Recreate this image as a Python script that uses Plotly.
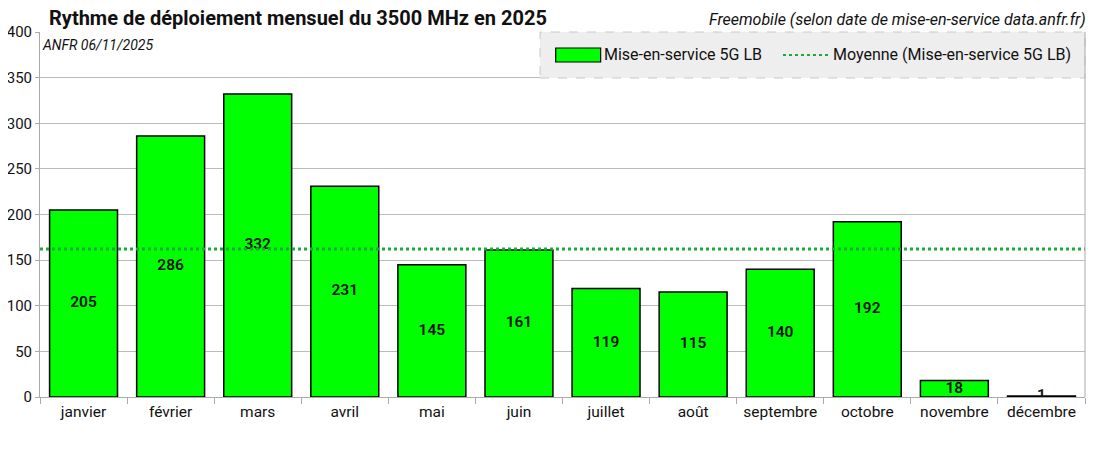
import plotly.graph_objects as go

months = ["janvier", "février", "mars", "avril", "mai", "juin", "juillet",
          "août", "septembre", "octobre", "novembre", "décembre"]
values = [205, 286, 332, 231, 145, 161, 119, 115, 140, 192, 18, 1]
series_name = "Mise-en-service 5G LB"
mean_name = "Moyenne (Mise-en-service 5G LB)"
title = "Rythme de déploiement mensuel du 3500 MHz en 2025"
subtitle = "Freemobile (selon date de mise-en-service data.anfr.fr)"
note = "ANFR 06/11/2025"
y_ticks = [0, 50, 100, 150, 200, 250, 300, 350, 400]

mean_val = sum(values) / len(values)

FONT = "Roboto, 'DejaVu Sans', sans-serif"

fig = go.Figure()
fig.add_trace(go.Bar(
    x=months, y=values, name=series_name,
    marker=dict(color="#00ff00", line=dict(color="#000000", width=1.5)),
    showlegend=False, hoverinfo="x+y",
))
fig.add_trace(go.Scatter(
    x=months, y=[v / 2 for v in values], mode="text",
    text=[str(v) for v in values],
    textfont=dict(family=FONT, size=15.5, color="#111111", weight=600),
    showlegend=False, hoverinfo="skip",
))

# mean line
fig.add_shape(type="line", xref="paper", yref="y", x0=0, x1=1,
              y0=mean_val, y1=mean_val,
              line=dict(color="#1aaa3a", width=3, dash="dot"))

# manual legend
fig.add_shape(type="rect", xref="paper", yref="paper", x0=0.4785, x1=1.0,
              y0=0.874, y1=1.0, fillcolor="#eeeeee",
              line=dict(color="#c8c8c8", width=1, dash="dash"), layer="above")
fig.add_shape(type="rect", xref="paper", yref="paper", x0=0.4935, x1=0.5365,
              y0=0.9178, y1=0.9562, fillcolor="#00ff00",
              line=dict(color="#000000", width=1.2), layer="above")
fig.add_annotation(xref="paper", yref="paper", x=0.5375, y=0.937,
                   xanchor="left", yanchor="middle", showarrow=False,
                   text=series_name, font=dict(family=FONT, size=16, color="#111111"))
fig.add_shape(type="line", xref="paper", yref="paper", x0=0.711, x1=0.755,
              y0=0.937, y1=0.937,
              line=dict(color="#1aaa3a", width=2, dash="dot"), layer="above")
fig.add_annotation(xref="paper", yref="paper", x=0.7565, y=0.937,
                   xanchor="left", yanchor="middle", showarrow=False,
                   text=mean_name, font=dict(family=FONT, size=16, color="#111111"))

# titles
fig.add_annotation(xref="paper", yref="paper", x=0.0065, y=1.0, yshift=0,
                   xanchor="left", yanchor="bottom", showarrow=False,
                   text="<b>" + title + "</b>",
                   font=dict(family=FONT, size=20, color="#111111"))
fig.add_annotation(xref="paper", yref="paper", x=1.003, y=1.0, yshift=1,
                   xanchor="right", yanchor="bottom", showarrow=False,
                   text="<i>" + subtitle + "</i>",
                   font=dict(family=FONT, size=16, color="#111111"))
fig.add_annotation(xref="paper", yref="paper", x=0.0, y=1.0, yshift=-3,
                   xanchor="left", yanchor="top", showarrow=False,
                   text="<i>" + note + "</i>",
                   font=dict(family=FONT, size=14, color="#111111"))

# the page body adds an 8px offset; size the figure so the plot area lands
# where the reference has it
fig.update_layout(
    width=1103, height=442,
    margin=dict(l=32, r=26, t=24, b=53, autoexpand=False),
    plot_bgcolor="#ffffff", paper_bgcolor="#ffffff",
    bargap=0.22,
    font=dict(family=FONT, size=15, color="#111111"),
    showlegend=False,
)
fig.update_xaxes(
    range=[-0.5, len(months) - 0.5],
    tickson="boundaries", ticks="outside", ticklen=6, tickcolor="#aaaaaa",
    showline=True, linecolor="#aaaaaa", linewidth=1, showgrid=False,
    tickfont=dict(family=FONT, size=15.5, color="#111111"), automargin=False,
)
fig.update_yaxes(
    range=[0, 400], tickvals=y_ticks, ticks="outside", ticklen=4,
    tickcolor="#aaaaaa", showline=True, linecolor="#aaaaaa", linewidth=1,
    gridcolor="#bbbbbb", gridwidth=1, zeroline=False, automargin=False,
    tickfont=dict(family=FONT, size=15, color="#111111"),
)
# right border of plot
fig.add_shape(type="line", xref="paper", yref="paper", x0=1, x1=1, y0=0, y1=1,
              line=dict(color="#aaaaaa", width=1))

fig.write_html("out.html")
